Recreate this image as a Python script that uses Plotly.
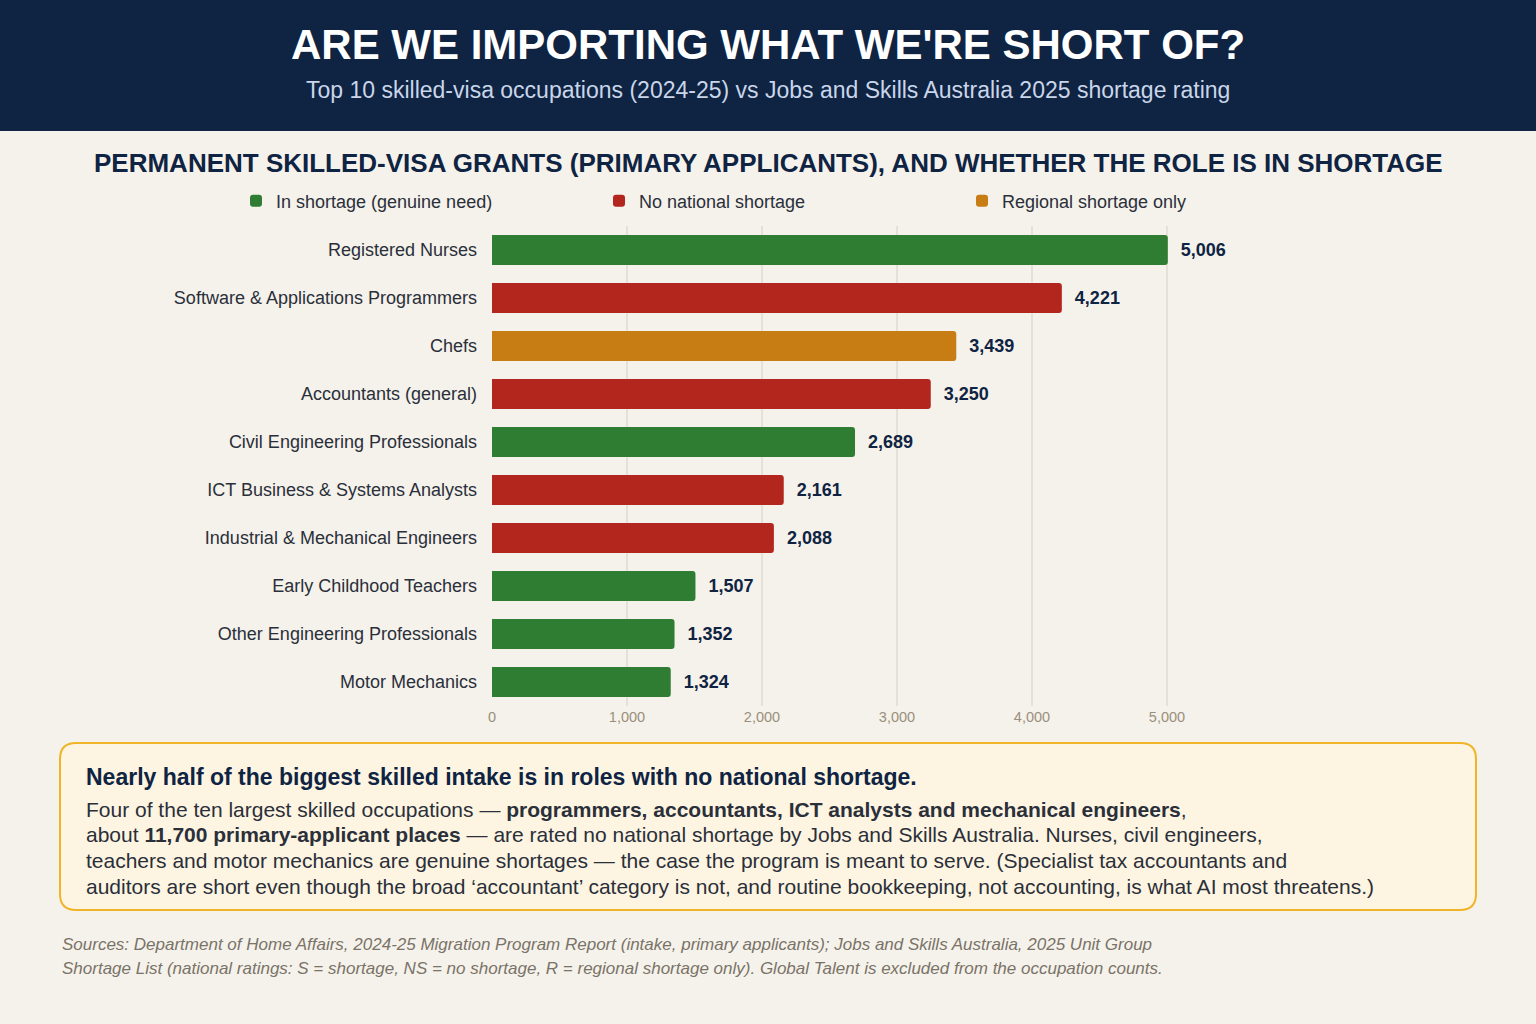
import plotly.graph_objects as go

# Top 10 skilled-visa occupations, 2024-25 (primary applicants)
occupations = [
    "Registered Nurses",
    "Software & Applications Programmers",
    "Chefs",
    "Accountants (general)",
    "Civil Engineering Professionals",
    "ICT Business & Systems Analysts",
    "Industrial & Mechanical Engineers",
    "Early Childhood Teachers",
    "Other Engineering Professionals",
    "Motor Mechanics",
]
grants = [5006, 4221, 3439, 3250, 2689, 2161, 2088, 1507, 1352, 1324]
rating = ["S", "NS", "R", "NS", "S", "NS", "NS", "S", "S", "S"]

rating_names = {
    "S": "In shortage (genuine need)",
    "NS": "No national shortage",
    "R": "Regional shortage only",
}
rating_colors = {"S": "#2e7d32", "NS": "#b3261e", "R": "#c77c14"}
x_ticks = [0, 1000, 2000, 3000, 4000, 5000]

NAVY = "#0f2342"
BG = "#f5f2eb"
FONT = "Liberation Sans, Arial, sans-serif"

# plot area in pixels (figure is 1536 x 1024)
L, R, T, B = 492, 1236, 226, 706
W, H = 1536, 1024


def px(x):
    return (x - L) / (R - L)


def py(y):
    return (B - y) / (B - T)


fig = go.Figure()

for key in ["S", "NS", "R"]:
    ys = [o for o, r in zip(occupations, rating) if r == key]
    xs = [g for g, r in zip(grants, rating) if r == key]
    fig.add_trace(go.Bar(
        x=xs, y=ys, orientation="h", name=rating_names[key],
        marker=dict(color=rating_colors[key], cornerradius=3, line_width=0),
        width=0.62,
        text=xs, texttemplate="  <b>%{x:,}</b>", textposition="outside",
        textfont=dict(size=18, color=NAVY, family=FONT),
        cliponaxis=False,
        hovertemplate="%{y}: %{x:,}<extra></extra>",
    ))

shapes = []
# header band
shapes.append(dict(type="rect", xref="paper", yref="paper",
                   x0=px(0), x1=px(W), y0=py(0), y1=py(131),
                   fillcolor=NAVY, line_width=0, layer="below"))

# rounded callout box (pixel path anchored at plot origin)
bx0, bx1, by0, by1, rad = 60, 1476, 743, 910, 16


def rp(x, y):
    return f"{x - L},{B - y}"


path = (f"M {rp(bx0 + rad, by0)} L {rp(bx1 - rad, by0)} "
        f"Q {rp(bx1, by0)} {rp(bx1, by0 + rad)} L {rp(bx1, by1 - rad)} "
        f"Q {rp(bx1, by1)} {rp(bx1 - rad, by1)} L {rp(bx0 + rad, by1)} "
        f"Q {rp(bx0, by1)} {rp(bx0, by1 - rad)} L {rp(bx0, by0 + rad)} "
        f"Q {rp(bx0, by0)} {rp(bx0 + rad, by0)} Z")
shapes.append(dict(type="path", xref="paper", yref="paper",
                   xsizemode="pixel", ysizemode="pixel", xanchor=0, yanchor=0,
                   path=path, fillcolor="#fdf5e1",
                   line=dict(color="#f0b429", width=2)))

annotations = []


def note(text, x, y, size, color, xanchor="left", bold=False, italic=False):
    if bold:
        text = f"<b>{text}</b>"
    if italic:
        text = f"<i>{text}</i>"
    annotations.append(dict(text=text, x=px(x), y=py(y), xref="paper", yref="paper",
                            xanchor=xanchor, yanchor="middle", showarrow=False,
                            font=dict(size=size, color=color, family=FONT)))


note("ARE WE IMPORTING WHAT WE'RE SHORT OF?", 768, 44, 42, "#ffffff", "center", bold=True)
note("Top 10 skilled-visa occupations (2024-25) vs Jobs and Skills Australia 2025 shortage rating",
     768, 90, 23, "#c9d6ea", "center")
note("PERMANENT SKILLED-VISA GRANTS (PRIMARY APPLICANTS), AND WHETHER THE ROLE IS IN SHORTAGE",
     768, 163, 26, NAVY, "center", bold=True)

note("Nearly half of the biggest skilled intake is in roles with no national shortage.",
     84, 777, 23, NAVY, bold=True)
body = [
    "Four of the ten largest skilled occupations \u2014 <b>programmers, accountants, ICT analysts and mechanical engineers</b>,",
    "about <b>11,700 primary-applicant places</b> \u2014 are rated no national shortage by Jobs and Skills Australia. Nurses, civil engineers,",
    "teachers and motor mechanics are genuine shortages \u2014 the case the program is meant to serve. (Specialist tax accountants and",
    "auditors are short even though the broad \u2018accountant\u2019 category is not, and routine bookkeeping, not accounting, is what AI most threatens.)",
]
for i, line in enumerate(body):
    note(line, 84, 809 + i * 25.7, 21, "#2a2f3a")

note("Sources: Department of Home Affairs, 2024-25 Migration Program Report (intake, primary applicants); Jobs and Skills Australia, 2025 Unit Group",
     60, 944, 17, "#7a7368", italic=True)
note("Shortage List (national ratings: S = shortage, NS = no shortage, R = regional shortage only). Global Talent is excluded from the occupation counts.",
     60, 968, 17, "#7a7368", italic=True)

fig.update_layout(
    width=W, height=H,
    margin=dict(l=L, r=W - R, t=T, b=H - B, pad=0),
    paper_bgcolor=BG, plot_bgcolor=BG,
    font=dict(family=FONT, color="#2a2f3a"),
    barmode="relative",
    bargap=0.38,
    shapes=shapes,
    annotations=annotations,
    showlegend=True,
    legend=dict(orientation="h", x=px(236), y=py(201), xanchor="left", yanchor="middle",
                entrywidth=318, entrywidthmode="pixels", bgcolor="rgba(0,0,0,0)",
                font=dict(size=18, color="#2a2f3a", family=FONT), traceorder="normal",
                itemwidth=30),
    xaxis=dict(range=[0, (R - L) / 0.135], tickvals=x_ticks, tickformat=",",
               showgrid=True, gridcolor="#e6e1d6", gridwidth=1.5, zeroline=False,
               showline=False, ticks="",
               tickfont=dict(size=14.5, color="#9a8f7c", family=FONT)),
    yaxis=dict(categoryorder="array", categoryarray=occupations[::-1],
               showgrid=False, showline=False, ticks="", ticklabelstandoff=14,
               tickfont=dict(size=18, color="#2a2f3a", family=FONT)),
)

fig.write_html("out.html", config={"displayModeBar": False},
               post_script="document.body.style.margin='0px';")
